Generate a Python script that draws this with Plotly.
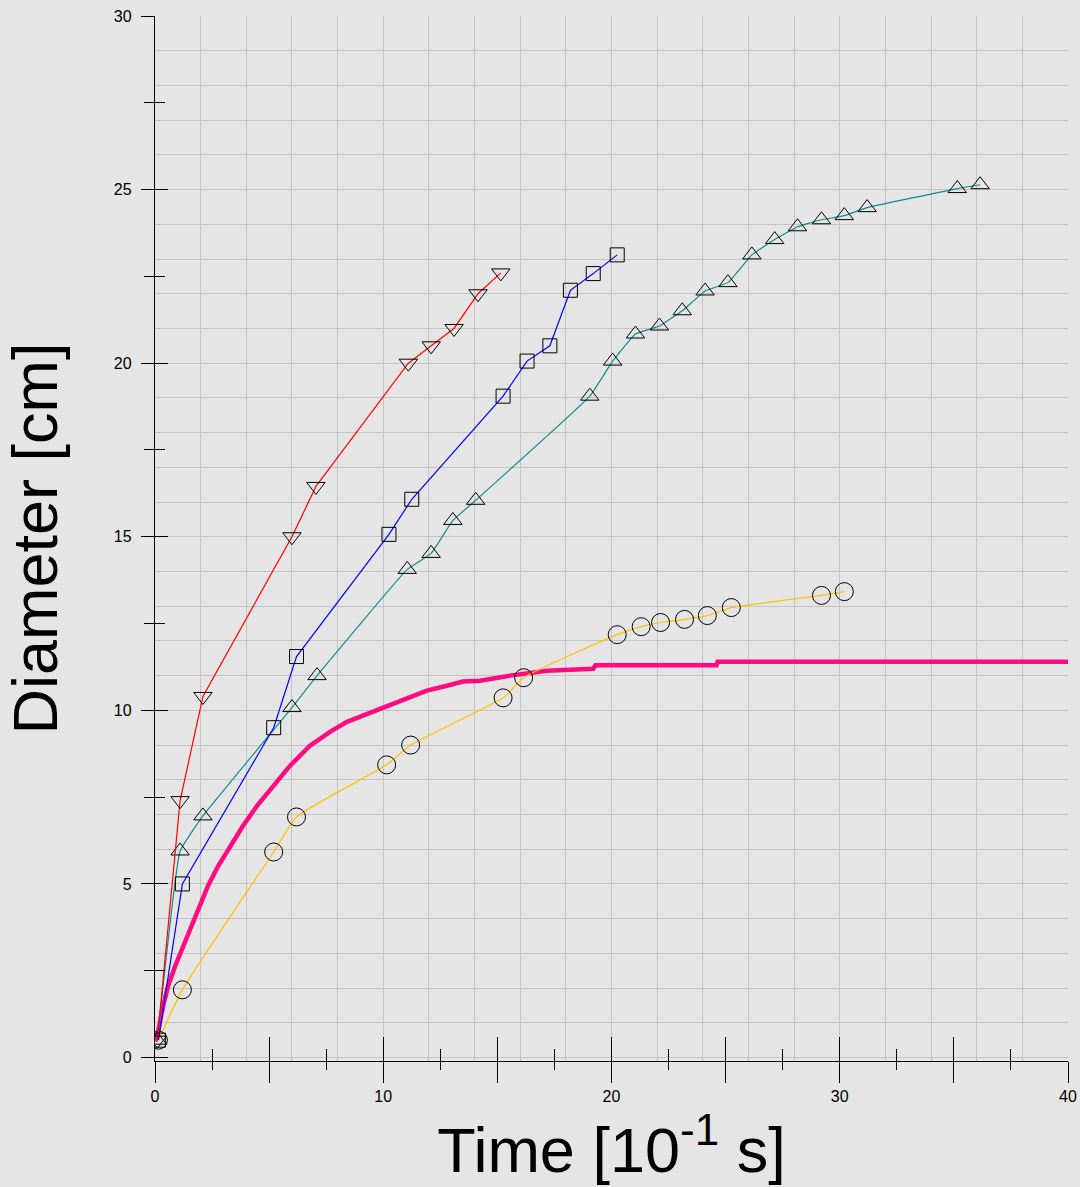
import plotly.graph_objects as go

# ---- data ----
red_x = [0.1, 1.1, 2.1, 6.0, 7.05, 11.1, 12.1, 13.1, 14.15, 15.15]
red_y = [0.5, 7.4, 10.4, 15.0, 16.45, 20.0, 20.5, 21.0, 22.0, 22.6]

blue_x = [0.15, 1.2, 5.2, 6.2, 10.25, 11.25, 15.25, 16.3, 17.3, 18.2, 19.2, 20.25]
blue_y = [0.5, 5.0, 9.5, 11.55, 15.07, 16.08, 19.05, 20.06, 20.5, 22.1, 22.58, 23.12]

teal_x = [0.1, 1.1, 2.1, 6.0, 7.1, 11.05, 12.1, 13.05, 14.05, 19.05, 20.05, 21.05, 22.1,
          23.1, 24.1, 25.1, 26.15, 27.15, 28.15, 29.2, 30.2, 31.2, 35.15, 36.15]
teal_y = [0.5, 5.95, 6.96, 10.08, 11.0, 14.06, 14.52, 15.47, 16.05, 19.05, 20.06, 20.84, 21.07,
          21.51, 22.08, 22.32, 23.12, 23.56, 23.93, 24.13, 24.25, 24.48, 25.03, 25.14]

yellow_x = [0.15, 1.2, 5.2, 6.2, 10.15, 11.2, 15.25, 16.15, 20.25, 21.3, 22.15, 23.2,
            24.2, 25.25, 29.2, 30.2]
yellow_y = [0.5, 1.95, 5.92, 6.93, 8.43, 9.0, 10.36, 10.94, 12.18, 12.41, 12.53, 12.62,
            12.73, 12.96, 13.31, 13.42]

pink_x = [0.0, 0.13, 0.35, 0.57, 0.88, 1.23, 1.62, 1.97, 2.32, 2.76, 3.29, 3.85, 4.47,
          5.17, 5.91, 6.79, 7.67, 8.41, 9.29, 10.16, 11.04, 11.91, 12.79, 13.49, 14.24,
          15.55, 17.17, 19.2, 19.3, 24.6, 24.65, 40.0]
pink_y = [0.46, 0.72, 1.47, 2.05, 2.63, 3.2, 3.78, 4.36, 4.94, 5.51, 6.09, 6.67, 7.25,
          7.82, 8.4, 8.98, 9.38, 9.67, 9.9, 10.13, 10.33, 10.57, 10.71, 10.83, 10.85,
          11.0, 11.14, 11.2, 11.3, 11.3, 11.4, 11.4]

x_labelled = [0, 10, 20, 30, 40]
x_unlabelled = [5, 15, 25, 35]
x_major = [0, 5, 10, 15, 20, 25, 30, 35, 40]
x_minor = [2.5, 7.5, 12.5, 17.5, 22.5, 27.5, 32.5, 37.5]
y_major = [0, 5, 10, 15, 20, 25, 30]
y_minor = [2.5, 7.5, 12.5, 17.5, 22.5, 27.5]

# ---- styling ----
BG = "#e5e5e5"
GRID = "#c3c3c3"
FONT = "Arial, Liberation Sans, sans-serif"
X_RANGE = [0, 40]
Y_RANGE = [-0.1, 30.0]
TW = 1.3

fig = go.Figure()

fig.add_trace(go.Scatter(x=pink_x, y=pink_y, mode="lines",
                         line=dict(color="#ff0a80", width=4.5), showlegend=False))

def marked(x, y, color, symbol, size, shape="linear", smoothing=None):
    line = dict(color=color, width=1.2, shape=shape)
    if smoothing is not None:
        line["smoothing"] = smoothing
    return go.Scatter(x=x, y=y, mode="lines+markers", line=line,
                      marker=dict(symbol=symbol, size=size, color="black",
                                  line=dict(color="black", width=1)),
                      showlegend=False)

fig.add_trace(marked(yellow_x, yellow_y, "#ffc000", "circle-open", 18, "spline", 0.5))
fig.add_trace(marked(teal_x, teal_y, "#138a8a", "triangle-up-open", 16, "spline", 0.3))
fig.add_trace(marked(blue_x, blue_y, "#0000ff", "square-open", 14))
fig.add_trace(marked(red_x, red_y, "#ff0000", "triangle-down-open", 16))

# transparent carriers so that the overlay axes (inner ticks, grid) are drawn
for ax_x, ax_y in (("x2", "y2"), ("x3", "y3")):
    fig.add_trace(go.Scatter(x=pink_x, y=pink_y, mode="lines", opacity=0,
                             line=dict(width=0), hoverinfo="skip", showlegend=False,
                             xaxis=ax_x, yaxis=ax_y))

tickfont = dict(family=FONT, size=16, color="black")
title_font = dict(family=FONT, size=63, color="black")
common = dict(zeroline=False, automargin=False)

fig.update_layout(
    width=1080, height=1187,
    margin=dict(l=155, r=12, t=16, b=126),
    paper_bgcolor=BG, plot_bgcolor=BG,
    font=dict(family=FONT, color="black"),
    # main x: labelled ticks + short outside ticks, axis line, title
    xaxis=dict(range=X_RANGE, tickmode="array", tickvals=x_labelled,
               ticks="outside", ticklen=21, tickwidth=TW, tickcolor="black",
               minor=dict(tickmode="array", tickvals=x_minor, ticks="outside",
                          ticklen=8, tickwidth=TW, tickcolor="black", showgrid=False),
               showgrid=False, showline=True, linecolor="black", linewidth=TW,
               tickfont=tickfont,
               title=dict(text="Time [10<sup>-1</sup> s]", font=title_font, standoff=16),
               **common),
    # inner halves of the crossing ticks
    xaxis2=dict(range=X_RANGE, overlaying="x", anchor="y2", side="bottom",
                tickmode="array", tickvals=x_major, ticks="inside", ticklen=24,
                tickwidth=TW, tickcolor="black", showticklabels=False,
                minor=dict(tickmode="array", tickvals=x_minor, ticks="inside",
                           ticklen=12, tickwidth=TW, tickcolor="black", showgrid=False),
                showgrid=False, showline=False, **common),
    # unlabelled long outside ticks + vertical grid every 2
    xaxis3=dict(range=X_RANGE, overlaying="x", anchor="y3", side="bottom",
                tickmode="array", tickvals=x_unlabelled, ticks="outside", ticklen=21,
                tickwidth=TW, tickcolor="black", showticklabels=False, showgrid=False,
                minor=dict(tick0=0, dtick=2, ticks="", showgrid=True,
                           gridcolor=GRID, gridwidth=1.2),
                showline=False, **common),
    yaxis=dict(range=Y_RANGE, tickmode="array", tickvals=y_major,
               ticks="outside", ticklen=13, tickwidth=TW, tickcolor="black",
               minor=dict(tickmode="array", tickvals=y_minor, ticks="outside",
                          ticklen=10, tickwidth=TW, tickcolor="black", showgrid=False),
               showgrid=False, showline=True, linecolor="black", linewidth=TW,
               tickfont=tickfont, ticklabelstandoff=6,
               title=dict(text="Diameter [cm]", font=title_font, standoff=46),
               **common),
    yaxis2=dict(range=Y_RANGE, overlaying="y", anchor="x2", side="left",
                tickmode="array", tickvals=y_major, ticks="inside", ticklen=13,
                tickwidth=TW, tickcolor="black", showticklabels=False,
                minor=dict(tickmode="array", tickvals=y_minor, ticks="inside",
                           ticklen=10, tickwidth=TW, tickcolor="black", showgrid=False),
                showgrid=False, showline=False, **common),
    yaxis3=dict(range=Y_RANGE, overlaying="y", anchor="x3", tick0=0, dtick=1,
                showgrid=True, gridcolor=GRID, gridwidth=1.2, ticks="",
                showticklabels=False, showline=False, **common),
)

fig.write_html("out.html",
               config={"displayModeBar": False},
               post_script="document.body.style.margin='0';"
                           "document.body.style.overflow='hidden';")
